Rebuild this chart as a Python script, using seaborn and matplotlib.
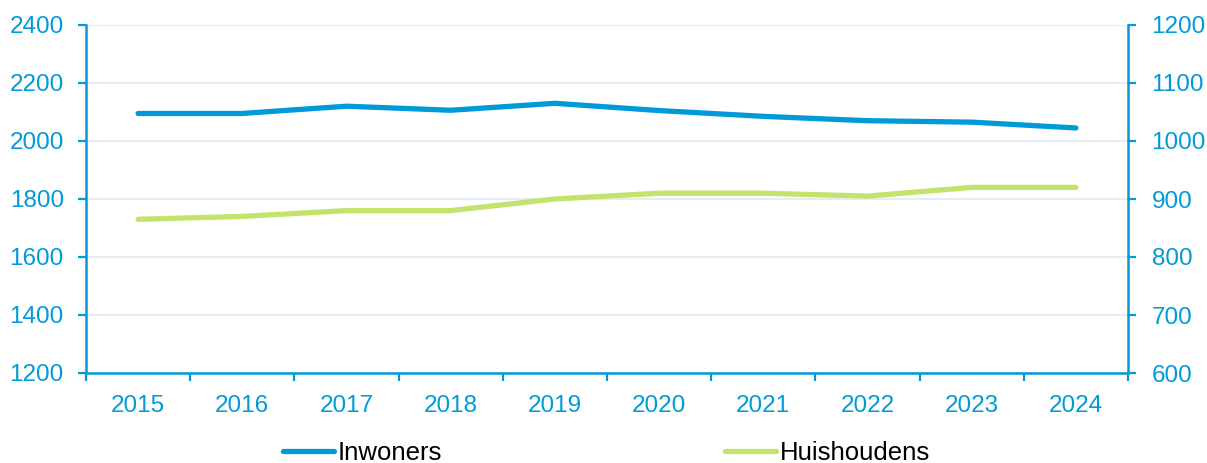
import matplotlib
matplotlib.use("Agg")
import matplotlib.pyplot as plt
import seaborn as sns
import pandas as pd
import numpy as np

years = ["2015", "2016", "2017", "2018", "2019", "2020", "2021", "2022", "2023", "2024"]
inwoners = [2095, 2095, 2120, 2106, 2130, 2105, 2085, 2070, 2065, 2045]
huishoudens = [865, 870, 880, 880, 900, 910, 910, 905, 920, 920]
left_ticks = [1200, 1400, 1600, 1800, 2000, 2200, 2400]
right_ticks = [600, 700, 800, 900, 1000, 1100, 1200]

BLUE = "#009AD8"
GREEN = "#C3E36C"
GRID = "#E4ECF6"

sns.set_theme(style="white")
plt.rcParams["font.family"] = ["Liberation Sans", "DejaVu Sans"]

df = pd.DataFrame({"jaar": years, "Inwoners": inwoners, "Huishoudens": huishoudens})

fig = plt.figure(figsize=(12.07, 4.63), dpi=100)
ax = fig.add_axes([86/1207, 1-373/463, (1128-86)/1207, (373-25)/463])
ax2 = ax.twinx()

sns.lineplot(data=df, x="jaar", y="Inwoners", ax=ax, color=BLUE, linewidth=3.8,
             solid_capstyle="round", label="Inwoners", legend=False, zorder=3)
sns.lineplot(data=df, x="jaar", y="Huishoudens", ax=ax2, color=GREEN, linewidth=3.8,
             solid_capstyle="round", label="Huishoudens", legend=False, zorder=3)

ax.set_ylim(left_ticks[0], left_ticks[-1])
ax2.set_ylim(right_ticks[0], right_ticks[-1])
ax.set_xlim(-0.5, len(years) - 0.5)
ax.set_yticks(left_ticks)
ax2.set_yticks(right_ticks)
ax.set_xticks(range(len(years)))
ax.set_xticklabels(years)
ax.set_xticks(np.arange(-0.5, len(years), 1.0), minor=True)

ax.set_xlabel("")
ax.set_ylabel("")
ax2.set_ylabel("")

ax.grid(axis="y", color=GRID, linewidth=1.5, zorder=0)
ax.set_axisbelow(True)

for a in (ax, ax2):
    for s in a.spines.values():
        s.set_visible(False)
ax.spines["left"].set_visible(True)
ax.spines["bottom"].set_visible(True)
ax2.spines["right"].set_visible(True)
for s in (ax.spines["left"], ax.spines["bottom"], ax2.spines["right"]):
    s.set_color(BLUE)
    s.set_linewidth(1.8)

FS = 17.5
ax.tick_params(axis="x", which="major", length=0, pad=16, labelsize=FS, labelcolor=BLUE)
ax.tick_params(axis="x", which="minor", length=6, width=1.6, color=BLUE, direction="out", bottom=True)
ax.tick_params(axis="y", length=6, width=1.6, color=BLUE, direction="out", pad=10,
               labelsize=FS, labelcolor=BLUE, left=True)
ax2.tick_params(axis="y", length=6, width=1.6, color=BLUE, direction="out", pad=11,
                labelsize=FS, labelcolor=BLUE, right=True)

h1, l1 = ax.get_legend_handles_labels()
h2, l2 = ax2.get_legend_handles_labels()
leg = fig.legend(h1 + h2, l1 + l2, loc="center", bbox_to_anchor=(0.5025, 0.022), ncol=2,
                 frameon=False, fontsize=18.5, handlelength=2.0, handletextpad=0.15,
                 columnspacing=11.0, borderpad=0)
for t in leg.get_texts():
    t.set_color("black")

fig.savefig("out.png", dpi=100)
